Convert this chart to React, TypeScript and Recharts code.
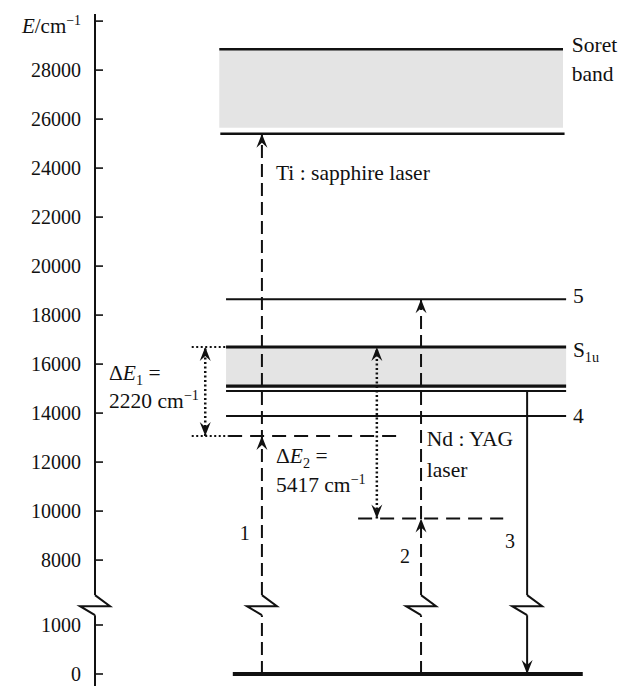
import { ComposedChart, XAxis, YAxis, ReferenceLine, ReferenceArea, Scatter } from "recharts"

const INK = "#111"
const BAND_FILL = "#e4e4e4"
const FONT = "Liberation Serif, Tinos, Times New Roman, DejaVu Serif, serif"

// the energy axis is broken: 0–1000 sits on a stretched lower piece,
// everything from 8000 up is drawn to scale
const LOWER_OFFSET = 3350
const LOWER_STRETCH = 2
const UPPER_START = 6000
function toAxis(e: number) {
  return e >= UPPER_START ? e : LOWER_OFFSET + LOWER_STRETCH * e
}
const BREAK_BELOW = toAxis(1200)
const BREAK_ABOVE = 6570
const BREAK_MID = (BREAK_BELOW + BREAK_ABOVE) / 2
const Y_DOMAIN = [2860, 30290]

// tick values, cm^-1 (top tick carries the axis title)
const energyTicks = [0, 1000, 8000, 10000, 12000, 14000, 16000, 18000, 20000, 22000, 24000, 26000, 28000, 30000]
const tickLabels = ["0", "1000", "8000", "10000", "12000", "14000", "16000", "18000", "20000", "22000", "24000", "26000", "28000", ""]

// level energies, cm^-1
const soretEdges = [25400, 28850]
const soretShade = [25650, 28820]
const s1uLines = [16700, 15100, 14900]
const s1uShade = [15100, 16700]
const level5 = 18650
const level4 = 13880
const groundLevel = 0
const tiVirtual = 13060
const ndVirtual = 9700

// horizontal layout of the schematic (x axis runs 0..100)
const COL_DE1 = 21.2
const COL_1 = 32.1
const COL_DE2 = 54.2
const COL_2 = 62.7
const COL_3 = 83.1
const SORET_X = [23.9, 90.3]
const LEVEL_X = [25.2, 90.6]
const GROUND_X = [26.5, 93.8]
const TI_VIRTUAL_X = [25.6, 58.1]
const LEAD_X = [18.6, 25.2]
const ND_VIRTUAL_X = [50.6, 78.5]

type Part = { t: string; i?: boolean; sub?: boolean; sup?: boolean }
type Note = { x: number; e: number; parts: Part[]; anchor?: "start" | "middle"; small?: boolean }

const notes: Note[] = [
  { x: 91.7, e: 28735, parts: [{ t: "Soret" }] },
  { x: 91.7, e: 27551, parts: [{ t: "band" }] },
  { x: 34.8, e: 23510, parts: [{ t: "Ti : sapphire laser" }] },
  { x: 91.9, e: 18490, parts: [{ t: "5" }] },
  { x: 91.9, e: 16286, parts: [{ t: "S" }, { t: "1u", sub: true }] },
  { x: 91.9, e: 13592, parts: [{ t: "4" }] },
  { x: 63.8, e: 12653, parts: [{ t: "Nd : YAG" }] },
  { x: 63.8, e: 11388, parts: [{ t: "laser" }] },
  { x: 34.8, e: 11959, parts: [{ t: "Δ" }, { t: "E", i: true }, { t: "2", sub: true }, { t: " =" }] },
  { x: 34.8, e: 10776, parts: [{ t: "5417 cm" }, { t: "−1", sup: true }] },
  { x: 2.7, e: 15347, parts: [{ t: "Δ" }, { t: "E", i: true }, { t: "1", sub: true }, { t: " =" }] },
  { x: 2.7, e: 14204, parts: [{ t: "2220 cm" }, { t: "−1", sup: true }] },
  { x: 28.8, e: 8816, parts: [{ t: "1" }], anchor: "middle", small: true },
  { x: 59.6, e: 7878, parts: [{ t: "2" }], anchor: "middle", small: true },
  { x: 79.8, e: 8490, parts: [{ t: "3" }], anchor: "middle", small: true },
]

const arrowHeads = [
  { x: COL_1, e: soretEdges[0], dir: "up" },
  { x: COL_1, e: tiVirtual, dir: "up" },
  { x: COL_2, e: level5, dir: "up" },
  { x: COL_2, e: ndVirtual, dir: "up" },
  { x: COL_DE2, e: s1uLines[0], dir: "up" },
  { x: COL_DE2, e: ndVirtual, dir: "down" },
  { x: COL_DE1, e: s1uLines[0], dir: "up" },
  { x: COL_DE1, e: tiVirtual, dir: "down" },
  { x: COL_3, e: groundLevel, dir: "down" },
]

const breakMarks = [0, COL_1, COL_2, COL_3]

function RichText({ x, y, parts, anchor = "start", size = 20 }: { x: number; y: number; parts: Part[]; anchor?: string; size?: number }) {
  let shift = 0
  const spans = parts.map((p, k) => {
    const target = p.sub ? 5 : p.sup ? -8 : 0
    const dy = target - shift
    shift = target
    return (
      <tspan key={k} dy={dy} fontStyle={p.i ? "italic" : undefined} fontSize={p.sub || p.sup ? size * 0.66 : size}>
        {p.t}
      </tspan>
    )
  })
  return (
    <text x={x} y={y} textAnchor={anchor} style={{ fontFamily: FONT }} fontSize={size} fill={INK}>
      {spans}
    </text>
  )
}

function EnergyTick(props: any) {
  const { x, y, payload } = props
  const idx = energyTicks.findIndex((e) => toAxis(e) === payload.value)
  const label = idx >= 0 ? tickLabels[idx] : ""
  return (
    <g>
      <line x1={x} x2={x + 8} y1={y} y2={y} stroke={INK} strokeWidth={1.6} />
      {label ? (
        <text x={x - 14} y={y} dy={7} textAnchor="end" style={{ fontFamily: FONT }} fontSize={20} fill={INK}>
          {label}
        </text>
      ) : (
        <RichText
          x={x - 14}
          y={y + 12}
          anchor="end"
          size={21}
          parts={[{ t: "E", i: true }, { t: "/cm" }, { t: "−1", sup: true }]}
        />
      )}
    </g>
  )
}

function ArrowHead(props: any) {
  const { cx, cy, payload } = props
  const s = payload.dir === "up" ? 1 : -1
  return (
    <path
      d={`M${cx},${cy} L${cx + 5.5},${cy + s * 14} L${cx},${cy + s * 9} L${cx - 5.5},${cy + s * 14} Z`}
      fill={INK}
    />
  )
}

function BreakMark(props: any) {
  const { cx, cy } = props
  return (
    <path
      d={`M${cx},${cy - 10} L${cx + 15},${cy + 1} L${cx - 15},${cy + 1} L${cx},${cy + 10}`}
      fill="none"
      stroke={INK}
      strokeWidth={2}
    />
  )
}

function NoteMark(props: any) {
  const { cx, cy, payload } = props
  return <RichText x={cx} y={cy} parts={payload.parts} anchor={payload.anchor} size={payload.small ? 20 : 21.5} />
}

function seg(x1: number, e1: number, x2: number, e2: number) {
  return [{ x: x1, y: toAxis(e1) }, { x: x2, y: toAxis(e2) }]
}

// vertical transition drawn across the axis break
function brokenVertical(x: number, top: number) {
  return [
    seg(x, groundLevel, x, 1200),
    [{ x, y: BREAK_ABOVE }, { x, y: toAxis(top) }],
  ]
}

export default function App() {
  const hLevels = [
    { s: seg(SORET_X[0], soretEdges[1], SORET_X[1] - 0.3, soretEdges[1]), w: 2.5 },
    { s: seg(SORET_X[0] + 0.2, soretEdges[0], SORET_X[1], soretEdges[0]), w: 2.5 },
    { s: seg(LEVEL_X[0], level5, LEVEL_X[1], level5), w: 2 },
    { s: seg(LEVEL_X[0], s1uLines[0], LEVEL_X[1], s1uLines[0]), w: 3 },
    { s: seg(LEVEL_X[0], s1uLines[1], LEVEL_X[1], s1uLines[1]), w: 3.2 },
    { s: seg(LEVEL_X[0], s1uLines[2], LEVEL_X[1], s1uLines[2]), w: 2 },
    { s: seg(LEVEL_X[0], level4, LEVEL_X[1], level4), w: 2 },
    { s: seg(GROUND_X[0], groundLevel, GROUND_X[1], groundLevel), w: 4 },
  ]

  const dashedVerticals = [...brokenVertical(COL_1, soretEdges[0]), ...brokenVertical(COL_2, level5)]
  const solidVerticals = brokenVertical(COL_3, s1uLines[2])

  return (
    <div style={{ width: 619, height: 686, background: "#fff" }}>
      <style>{"body{margin:0}"}</style>
      <ComposedChart width={619} height={686} margin={{ top: 14, right: 4, bottom: 0, left: 0 }}>
        <XAxis type="number" dataKey="x" domain={[0, 100]} hide />
        <YAxis
          type="number"
          dataKey="y"
          domain={Y_DOMAIN}
          ticks={energyTicks.map(toAxis)}
          width={95}
          axisLine={false}
          tickLine={false}
          tickSize={0}
          tickMargin={0}
          interval={0}
          tick={<EnergyTick />}
        />

        <ReferenceArea x1={SORET_X[0]} x2={SORET_X[1] - 0.3} y1={soretShade[0]} y2={soretShade[1]} fill={BAND_FILL} fillOpacity={1} stroke="none" ifOverflow="visible" />
        <ReferenceArea x1={LEVEL_X[0]} x2={LEVEL_X[1]} y1={s1uShade[0]} y2={s1uShade[1]} fill={BAND_FILL} fillOpacity={1} stroke="none" ifOverflow="visible" />

        {/* broken y axis line */}
        <ReferenceLine segment={[{ x: 0, y: Y_DOMAIN[0] }, { x: 0, y: BREAK_BELOW }]} stroke={INK} strokeWidth={2} ifOverflow="visible" />
        <ReferenceLine segment={[{ x: 0, y: BREAK_ABOVE }, { x: 0, y: Y_DOMAIN[1] }]} stroke={INK} strokeWidth={2} ifOverflow="visible" />

        {hLevels.map((l, i) => (
          <ReferenceLine key={`lv${i}`} segment={l.s} stroke={INK} strokeWidth={l.w} ifOverflow="visible" />
        ))}

        {/* virtual levels */}
        <ReferenceLine segment={seg(TI_VIRTUAL_X[0], tiVirtual, TI_VIRTUAL_X[1], tiVirtual)} stroke={INK} strokeWidth={2} strokeDasharray="14 8" ifOverflow="visible" />
        <ReferenceLine segment={seg(LEAD_X[0], tiVirtual, TI_VIRTUAL_X[0], tiVirtual)} stroke={INK} strokeWidth={2} strokeDasharray="2 2.5" ifOverflow="visible" />
        <ReferenceLine segment={seg(LEAD_X[0], s1uLines[0], LEAD_X[1], s1uLines[0])} stroke={INK} strokeWidth={2} strokeDasharray="2 2.5" ifOverflow="visible" />
        <ReferenceLine segment={seg(ND_VIRTUAL_X[0], ndVirtual, ND_VIRTUAL_X[1], ndVirtual)} stroke={INK} strokeWidth={2} strokeDasharray="14 8" ifOverflow="visible" />

        {/* transitions */}
        {dashedVerticals.map((s, i) => (
          <ReferenceLine key={`dv${i}`} segment={s} stroke={INK} strokeWidth={2} strokeDasharray="13 6" ifOverflow="visible" />
        ))}
        {solidVerticals.map((s, i) => (
          <ReferenceLine key={`sv${i}`} segment={s} stroke={INK} strokeWidth={2} ifOverflow="visible" />
        ))}
        <ReferenceLine segment={seg(COL_DE2, ndVirtual, COL_DE2, s1uLines[0])} stroke={INK} strokeWidth={2.5} strokeDasharray="2 2.5" ifOverflow="visible" />
        <ReferenceLine segment={seg(COL_DE1, tiVirtual, COL_DE1, s1uLines[0])} stroke={INK} strokeWidth={2.5} strokeDasharray="2 2.5" ifOverflow="visible" />

        <Scatter
          data={arrowHeads.map((a) => ({ ...a, y: toAxis(a.e) }))}
          dataKey="y"
          shape={<ArrowHead />}
          isAnimationActive={false}
        />
        <Scatter
          data={breakMarks.map((x) => ({ x, y: BREAK_MID }))}
          dataKey="y"
          shape={<BreakMark />}
          isAnimationActive={false}
        />
        <Scatter
          data={notes.map((n) => ({ ...n, y: toAxis(n.e) }))}
          dataKey="y"
          shape={<NoteMark />}
          isAnimationActive={false}
        />
      </ComposedChart>
    </div>
  )
}
